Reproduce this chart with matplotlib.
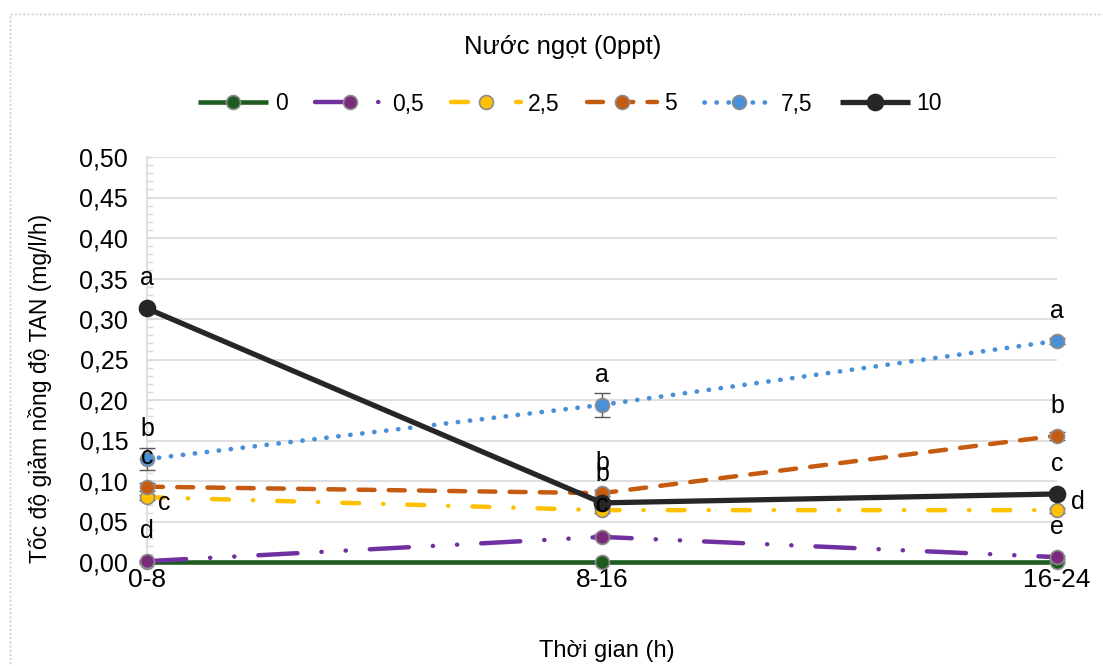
import matplotlib
matplotlib.use("Agg")
import matplotlib.pyplot as plt
from matplotlib.patches import Rectangle
import numpy as np

plt.rcParams['font.family'] = ['Liberation Sans', 'DejaVu Sans']

categories = ["0-8", "8-16", "16-24"]
series_names = ["0", "0,5", "2,5", "5", "7,5", "10"]
v_0 = [0.000, 0.000, 0.000]
v_05 = [0.001, 0.031, 0.006]
v_25 = [0.080, 0.064, 0.064]
v_5 = [0.093, 0.085, 0.156]
v_75 = [0.127, 0.194, 0.273]
v_10 = [0.313, 0.073, 0.084]
e_0 = [0.001, 0.001, 0.001]
e_05 = [0.002, 0.003, 0.002]
e_25 = [0.003, 0.003, 0.003]
e_5 = [0.005, 0.004, 0.005]
e_75 = [0.014, 0.015, 0.004]
e_10 = [0.003, 0.003, 0.003]

# significance letters: (series index, category index, letter)
letters = [
    (5, 0, "a"), (4, 0, "b"), (3, 0, "c"), (2, 0, "c"), (1, 0, "d"),
    (4, 1, "a"), (3, 1, "b"), (2, 1, "b"), (5, 1, "c"),
    (4, 2, "a"), (3, 2, "b"), (5, 2, "c"), (2, 2, "d"), (1, 2, "e"),
]

values = [v_0, v_05, v_25, v_5, v_75, v_10]
errors = [e_0, e_05, e_25, e_5, e_75, e_10]
colors = ["#1D5B20", "#7030A0", "#FFC000", "#C55A11", "#4A90D9", "#262626"]
mfc = ["#1D5B20", "#7A2A7A", "#FFC000", "#C55A11", "#4A90D9", "#262626"]
lws = [3.3, 3.2, 3.2, 3.2, 3.4, 3.8]
dashes = [None, (8.8, 5.4, 0.05, 5.4, 0.05, 5.4), (3.8, 5.4, 0.05, 5.4), (3.6, 3.2), (0.05, 2.5), None]
caps = ["butt", "round", "round", "round", "round", "butt"]
msz = [10, 10, 10, 10, 10, 11.5]

fig = plt.figure(figsize=(11.03, 6.66), dpi=100)
ax = fig.add_axes([147/1103, 1-562/666, (1057-147)/1103, (562-157)/666])

x = np.arange(len(categories))
handles = []
for i in range(len(values)):
    ax.errorbar(x, values[i], yerr=errors[i], fmt='none', ecolor='#595959',
                elinewidth=1.0, capsize=6, capthick=1.0, zorder=2+i, clip_on=False)
    kw = {}
    if dashes[i] is not None:
        kw['dashes'] = dashes[i]
    ln, = ax.plot(x, values[i], color=colors[i], lw=lws[i], marker='o',
                  markersize=msz[i], markerfacecolor=mfc[i],
                  markeredgecolor='#8C8C8C' if i < 5 else mfc[i], markeredgewidth=1.2,
                  solid_capstyle='butt', dash_capstyle=caps[i], zorder=3+i,
                  label=series_names[i], clip_on=False, **kw)
    handles.append(ln)

for si, ci, let in letters:
    yv = values[si][ci]
    if si == 2 and ci == 0:
        off = (17, -6)
    elif si == 2 and ci == 2:
        off = (21, 8)
    elif si == 5 and ci == 1:
        off = (0, -2)
    elif si == 2 and ci == 1:
        off = (0, 36)
    else:
        off = (0, 30)
    ax.annotate(let, (ci, yv), xytext=off, textcoords='offset pixels',
                ha='center', va='center', fontsize=18, color='#000000', zorder=20)

ax.set_xlim(0, 2)
ax.set_ylim(0, 0.5)
ax.set_xticks(x)
ax.set_xticklabels(categories)
ax.set_yticks(np.arange(0, 0.501, 0.05))
ax.set_yticklabels([f"{t:.2f}".replace('.', ',') for t in np.arange(0, 0.501, 0.05)])
ax.set_yticks(np.arange(0, 0.501, 0.01), minor=True)
ax.tick_params(axis='y', which='both', length=4, direction='in', color='#D9D9D9', width=1,
               labelsize=18, pad=13.5)
ax.tick_params(axis='x', which='both', length=0, labelsize=19, pad=4)
ax.grid(axis='y', color='#D9D9D9', lw=1.2)
ax.set_axisbelow(True)
for s in ['top', 'right']:
    ax.spines[s].set_visible(False)
ax.spines['left'].set_color('#D9D9D9')
ax.spines['left'].set_linewidth(1.2)
ax.spines['bottom'].set_color('#D9D9D9')

fig.text(563/1103, 1-47/666, "Nước ngọt (0ppt)", ha='center', va='center', fontsize=18.5)
fig.text(607/1103, 1-651/666, "Thời gian (h)", ha='center', va='center', fontsize=17)
fig.text(40/1103, 1-388/666, "Tốc độ giảm nồng độ TAN (mg/l/h)", ha='center', va='center',
         rotation=90, fontsize=16.5)

fig.legend(handles=handles, loc='center', bbox_to_anchor=(570/1103, 1-104/666), ncol=6,
           frameon=False, fontsize=16.5, handlelength=3.05, columnspacing=1.2, handletextpad=0.3)

fig.patches.append(Rectangle((10/1103, -0.05), 1.1, 1-14/666+0.05, transform=fig.transFigure,
                             fill=False, edgecolor='#C8C8C8', lw=1.0, linestyle=(0, (1.5, 1.5))))

fig.savefig("out.png", dpi=100)
